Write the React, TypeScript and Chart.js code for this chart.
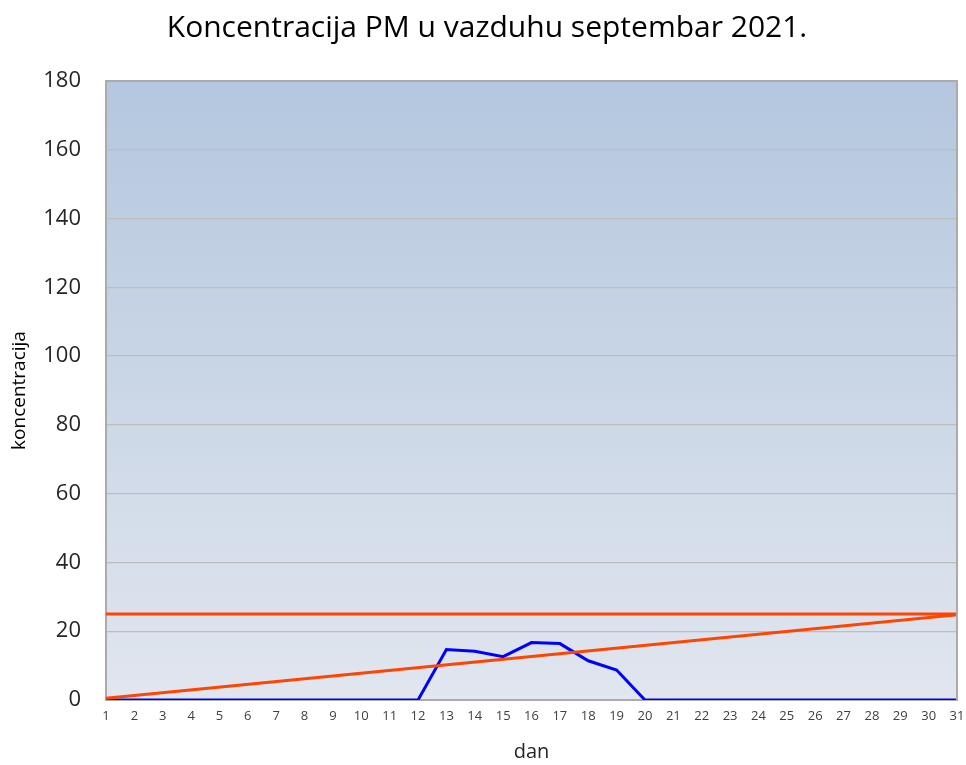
import React, { useEffect, useRef } from "react";
import { Chart, registerables } from "chart.js";

Chart.register(...registerables);

const days: string[] = ["1","2","3","4","5","6","7","8","9","10","11","12","13","14","15","16","17","18","19","20","21","22","23","24","25","26","27","28","29","30","31"];
const pmValues: number[] = [0,0,0,0,0,0,0,0,0,0,0,0,14.7,14.2,12.6,16.7,16.4,11.4,8.7,0,0,0,0,0,0,0,0,0,0,0,0];
const limitValues: number[] = [25,25,25,25,25,25,25,25,25,25,25,25,25,25,25,25,25,25,25,25,25,25,25,25,25,25,25,25,25,25,25];
const trendValues: (number | null)[] = [0.5,null,null,null,null,null,null,null,null,null,null,null,null,null,null,null,null,null,null,null,null,null,null,null,null,null,null,null,null,null,24.8];
const yMin = 0;
const yMax = 180;
const yStep = 20;

const FONT = "'Open Sans', 'Noto Sans', sans-serif";

const plotBackground = {
  id: "plotBackground",
  beforeDatasetsDraw(chart: any) {
    const { ctx, chartArea } = chart;
    const { left, top, right, bottom } = chartArea;
    ctx.save();
    const g = ctx.createLinearGradient(0, top, 0, bottom);
    g.addColorStop(0, "#b4c7de");
    g.addColorStop(1, "#e1e6ef");
    ctx.globalCompositeOperation = "destination-over";
    ctx.fillStyle = g;
    ctx.fillRect(left, top, right - left, bottom - top);
    ctx.restore();
  },
  afterDatasetsDraw(chart: any) {
    const { ctx, chartArea } = chart;
    const { left, top, right, bottom } = chartArea;
    ctx.save();
    ctx.strokeStyle = "#ababab";
    ctx.lineWidth = 2;
    ctx.beginPath();
    ctx.moveTo(left, top);
    ctx.lineTo(right, top);
    ctx.lineTo(right, bottom);
    ctx.stroke();
    ctx.restore();
  },
};

export default function App() {
  const ref = useRef<HTMLCanvasElement | null>(null);
  useEffect(() => {
    document.body.style.margin = "0";
    const canvas = ref.current;
    if (!canvas) return;
    const chart = new Chart(canvas, {
      type: "line",
      data: {
        labels: days,
        datasets: [
          {
            label: "PM",
            data: pmValues,
            borderColor: "#0000ff",
            borderWidth: 3,
            pointRadius: 0,
            tension: 0,
            order: 3,
          },
          {
            label: "granica",
            data: limitValues,
            borderColor: "#ff4500",
            borderWidth: 3,
            pointRadius: 0,
            tension: 0,
            order: 2,
          },
          {
            label: "trend",
            data: trendValues,
            borderColor: "#ff4500",
            borderWidth: 3,
            pointRadius: 0,
            tension: 0,
            spanGaps: true,
            order: 1,
          },
        ],
      },
      options: {
        animation: false,
        responsive: false,
        maintainAspectRatio: false,
        layout: { padding: { top: 0, right: 0, bottom: 0, left: 8 } },
        plugins: {
          legend: { display: false },
          tooltip: { enabled: false },
          title: {
            display: true,
            text: "Koncentracija PM u vazduhu septembar 2021.",
            color: "#000000",
            font: { family: FONT, size: 30, weight: "normal", lineHeight: 1.2 },
            padding: { top: 10, bottom: 35 },
          },
        },
        scales: {
          x: {
            type: "category",
            offset: false,
            grid: { display: false, drawTicks: false },
            border: { display: true, color: "#ababab", width: 2 },
            ticks: {
              autoSkip: false,
              maxRotation: 0,
              minRotation: 0,
              color: "#404040",
              font: { family: FONT, size: 13 },
              padding: 8,
            },
            title: {
              display: true,
              text: "dan",
              color: "#262626",
              font: { family: FONT, size: 20 },
              padding: { top: 0, bottom: 1 },
            },
            afterFit(scale: any) {
              scale.height = 65;
              scale.paddingRight = 9;
              scale.paddingLeft = 0;
            },
          },
          y: {
            min: yMin,
            max: yMax,
            grid: { color: "#bdbdbd", lineWidth: 1.3, drawTicks: false },
            border: { display: true, color: "#ababab", width: 2 },
            ticks: {
              stepSize: yStep,
              color: "#262626",
              font: { family: FONT, size: 22 },
              padding: 25,
            },
            title: {
              display: true,
              text: "koncentracija",
              color: "#000000",
              font: { family: FONT, size: 19 },
              padding: { top: 0, bottom: 0 },
            },
            afterFit(scale: any) {
              scale.width = 98;
            },
          },
        },
      },
      plugins: [plotBackground],
    });
    return () => chart.destroy();
  }, []);
  return (
    <div style={{ width: 966, height: 765, background: "#ffffff" }}>
      <canvas ref={ref} width={966} height={765} style={{ display: "block" }} />
    </div>
  );
}
